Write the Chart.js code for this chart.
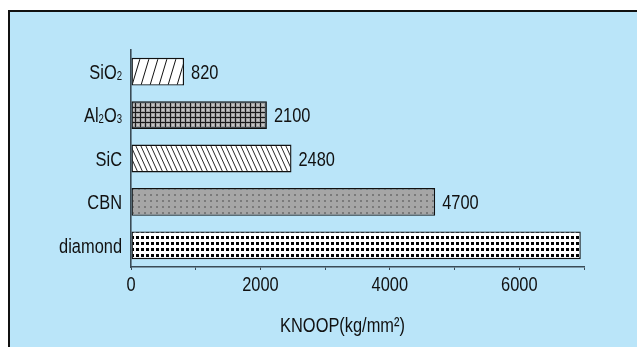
<!DOCTYPE html>
<html>
<head>
<meta charset="utf-8">
<script src="https://cdn.jsdelivr.net/npm/chart.js@4/dist/chart.umd.min.js"></script>
<style>
  html, body { margin: 0; padding: 0; background: #ffffff; width: 637px; height: 347px; overflow: hidden; }
  #box { position: absolute; left: 8px; top: 10px; width: 629px; height: 337px;
         border-left: 2px solid #111; border-top: 2px solid #111; background: #bae5f9; }
  #wrap { position: absolute; left: 0; top: 0; width: 627px; height: 335px; }
</style>
</head>
<body>
<div id="box"><div id="wrap"><canvas id="c"></canvas></div></div>
<script>
const categories = ['SiO\u2082', 'Al\u2082O\u2083', 'SiC', 'CBN', 'diamond'];
const hardness = [820, 2100, 2480, 4700, 6950];
const valueLabels = ['820', '2100', '2480', '4700', ''];
const xTickValues = [0, 2000, 4000, 6000];
const axisTitle = 'KNOOP(kg/mm\u00B2)';

const FONT = "'Liberation Sans', Arial, sans-serif";
const SIZE = 20.5;
const SUB = 12;
const SQUEEZE = 0.8;
const AXIS = '#3a4b56';
const INK = '#111';

function tile(w, h, draw) {
  const c = document.createElement('canvas');
  c.width = w; c.height = h;
  const x = c.getContext('2d');
  draw(x, w, h);
  return x.createPattern(c, 'repeat');
}
function diagTile(w, h, rising, bg, lw) {
  return tile(w, h, (x) => {
    x.fillStyle = bg; x.fillRect(0, 0, w, h);
    x.strokeStyle = '#111'; x.lineWidth = lw;
    x.beginPath();
    for (let k = -1; k <= 1; k++) {
      if (rising) { x.moveTo(k * w, h); x.lineTo(k * w + w, 0); }
      else { x.moveTo(k * w, 0); x.lineTo(k * w + w, h); }
    }
    x.stroke();
  });
}
const ctx0 = document.getElementById('c').getContext('2d');
const pSiO2 = diagTile(9, 30, true, '#ffffff', 1);
const pSiC = diagTile(5, 11, false, '#ffffff', 0.9);
const pAl = tile(5, 5, (x, w, h) => {
  x.fillStyle = '#a0a0a0'; x.fillRect(0, 0, w, h);
  x.fillStyle = '#c4c4c4'; x.fillRect(2, 2, 2, 2);
  x.fillStyle = '#1a1a1a'; x.fillRect(0, 0, w, 1); x.fillRect(0, 0, 1, h);
});
const pCBN = tile(6, 6, (x, w, h) => {
  x.fillStyle = '#a6a6a6'; x.fillRect(0, 0, w, h);
  x.fillStyle = '#7a7a7a'; x.fillRect(2, 2, 2, 2);
});
const pDia = tile(5, 6, (x, w, h) => {
  x.fillStyle = '#ffffff'; x.fillRect(0, 0, w, h);
  x.fillStyle = '#000000'; x.fillRect(1, 2, 3, 3);
});

// split text into runs: normal characters and subscript digits
const SUBS = '\u2080\u2081\u2082\u2083\u2084\u2085\u2086\u2087\u2088\u2089';
function runs(text) {
  const out = [];
  for (const ch of text) {
    const si = SUBS.indexOf(ch);
    const sub = si >= 0;
    const c = sub ? String(si) : ch;
    if (out.length && out[out.length - 1].sub === sub) out[out.length - 1].t += c;
    else out.push({ t: c, sub });
  }
  return out;
}
function drawText(c, text, x, y, align) {
  const rs = runs(text);
  c.save();
  c.fillStyle = INK;
  c.textBaseline = 'alphabetic';
  c.textAlign = 'left';
  let total = 0;
  rs.forEach(r => { c.font = (r.sub ? SUB : SIZE) + 'px ' + FONT; r.w = c.measureText(r.t).width; total += r.w; });
  const tw = total * SQUEEZE;
  let sx = align === 'right' ? x - tw : align === 'center' ? x - tw / 2 : x;
  c.translate(sx, y + SIZE * 0.358);   // y is the vertical middle of capitals
  c.scale(SQUEEZE, 1);
  let cx = 0;
  rs.forEach(r => {
    c.font = (r.sub ? SUB : SIZE) + 'px ' + FONT;
    c.fillText(r.t, cx, r.sub ? 1 : 0);
    cx += r.w;
  });
  c.restore();
}

const textPlugin = {
  id: 'condensedText',
  afterDraw(chart) {
    const c = chart.ctx;
    const a = chart.chartArea;
    const xs = chart.scales.x, ys = chart.scales.y;
    categories.forEach((lab, i) => drawText(c, lab, a.left - 9, ys.getPixelForTick(i), 'right'));
    xTickValues.forEach(v => drawText(c, String(v), xs.getPixelForValue(v), a.bottom + 16.5, 'center'));
    chart.getDatasetMeta(0).data.forEach((bar, i) => {
      if (valueLabels[i]) drawText(c, valueLabels[i], bar.x + 7, bar.y, 'left');
    });
    drawText(c, axisTitle, (a.left + a.right) / 2 - 15, a.bottom + 57.5, 'center');
  }
};

new Chart(ctx0, {
  type: 'bar',
  data: {
    labels: categories,
    datasets: [{
      data: hardness,
      backgroundColor: [pSiO2, pAl, pSiC, pCBN, pDia],
      borderColor: '#111',
      borderWidth: 1.4,
      borderSkipped: false,
      barPercentage: 0.8,
      categoryPercentage: 0.8
    }]
  },
  options: {
    indexAxis: 'y',
    responsive: true,
    maintainAspectRatio: false,
    animation: false,
    layout: { padding: { top: 38, right: 53, left: 0, bottom: 0 } },
    plugins: { legend: { display: false }, tooltip: { enabled: false }, title: { display: false } },
    scales: {
      x: {
        min: 0, max: 7000,
        afterFit(s) { s.height = 80; },
        afterBuildTicks(s) {
          const t = [];
          for (let v = 0; v <= 7000; v += 1000) t.push({ value: v });
          s.ticks = t;
        },
        ticks: { display: false, autoSkip: false, maxRotation: 0 },
        grid: { drawOnChartArea: false, drawTicks: true, tickLength: 3, tickColor: AXIS, tickWidth: 1 },
        border: { color: AXIS, width: 1.6 }
      },
      y: {
        afterFit(s) { s.width = 121; },
        ticks: { display: false },
        grid: { drawOnChartArea: false, drawTicks: false },
        border: { color: AXIS, width: 1.6 }
      }
    }
  },
  plugins: [textPlugin]
});
</script>
</body>
</html>
